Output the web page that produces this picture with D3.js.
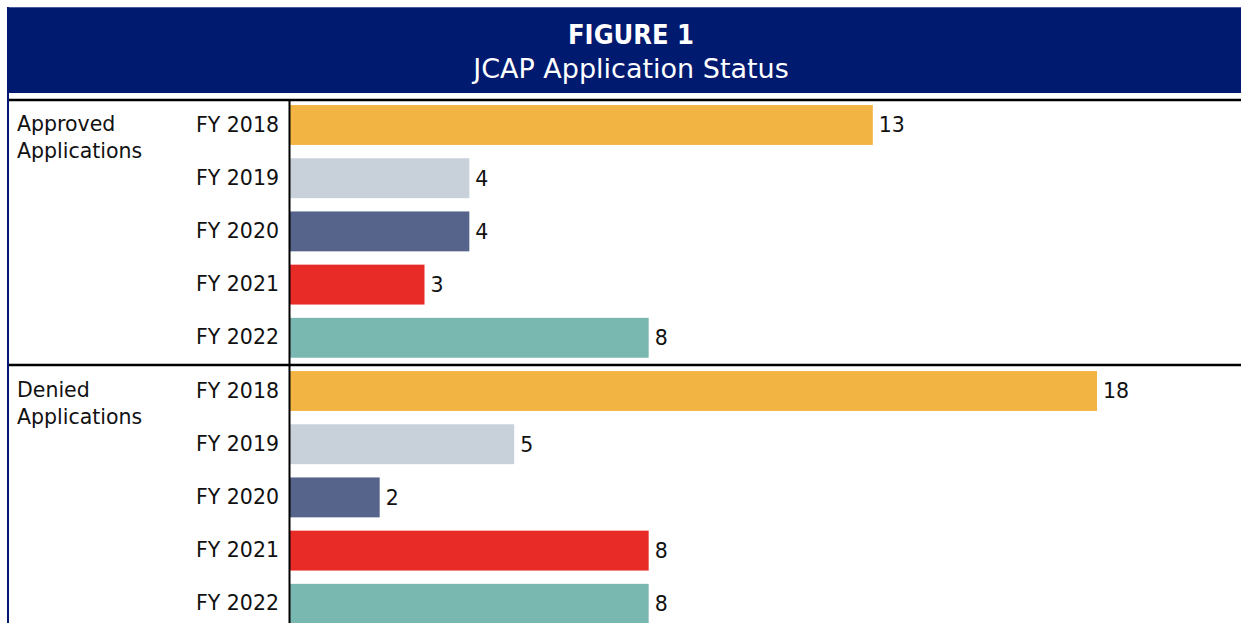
<!DOCTYPE html>
<html>
<head>
<meta charset="utf-8">
<script src="https://cdn.jsdelivr.net/npm/d3@7"></script>
<style>
  html, body { margin: 0; padding: 0; background: #fff; }
  svg { display: block; }
  text { font-family: "DejaVu Sans", sans-serif; }
</style>
</head>
<body>
<svg id="chart" width="1241" height="623"></svg>
<script>
// ---- data ----
const groups = ["Approved Applications", "Denied Applications"];
const years = ["FY 2018", "FY 2019", "FY 2020", "FY 2021", "FY 2022"];
const approved = [13, 4, 4, 3, 8];
const denied = [18, 5, 2, 8, 8];
const yearColors = ["#F2B544", "#C8D1DA", "#56638A", "#E92B28", "#79B7B1"];
const titleLines = ["FIGURE 1", "JCAP Application Status"];

const rows = [];
[approved, denied].forEach((vals, gi) => {
  vals.forEach((v, yi) => rows.push({ key: gi + "-" + yi, group: gi, year: years[yi], yi, value: v }));
});

const svg = d3.select("#chart");
const W = 1241, H = 623;
const FS = 20.5;

// header band
svg.append("rect").attr("x", 8).attr("y", 7).attr("width", W - 8).attr("height", 86)
  .attr("fill", "#001A70");
svg.append("line").attr("x1", 8).attr("x2", W).attr("y1", 7.5).attr("y2", 7.5)
  .attr("stroke", "#4a5a9a").attr("stroke-width", 1);
// left border
svg.append("line").attr("x1", 8).attr("x2", 8).attr("y1", 7).attr("y2", H)
  .attr("stroke", "#001A70").attr("stroke-width", 2);

svg.append("text").attr("x", 631).attr("y", 44).attr("text-anchor", "middle")
  .attr("fill", "#fff").attr("font-weight", "bold").attr("font-size", 27)
  .style("font-family", '"DejaVu Sans Condensed", "DejaVu Sans", sans-serif')
  .text(titleLines[0]);
svg.append("text").attr("x", 631).attr("y", 78).attr("text-anchor", "middle")
  .attr("fill", "#fff").attr("font-size", 27)
  .text(titleLines[1]);

// scales
const y = d3.scaleBand().domain(rows.map(d => d.key)).range([98.4, 630.4])
  .paddingInner(0.25).paddingOuter(0.125);
const x = d3.scaleLinear().domain([0, 18]).range([290, 1097]);

// bars
svg.append("g").selectAll("rect").data(rows).join("rect")
  .attr("x", x(0))
  .attr("y", d => y(d.key))
  .attr("width", d => x(d.value) - x(0))
  .attr("height", y.bandwidth())
  .attr("fill", d => yearColors[d.yi]);

// value labels
svg.append("g").selectAll("text").data(rows).join("text")
  .attr("x", d => x(d.value) + 6)
  .attr("y", d => y(d.key) + y.bandwidth() / 2)
  .attr("dy", "0.36em")
  .attr("font-size", FS).attr("fill", "#111")
  .text(d => d.value);

// category axis (year labels)
const yAxis = d3.axisLeft(y).tickSize(0).tickPadding(11)
  .tickFormat(k => rows.find(r => r.key === k).year);
const ag = svg.append("g").attr("transform", `translate(${x(0)},0)`).call(yAxis);
ag.select(".domain").remove();
ag.selectAll("text").attr("font-size", FS).attr("fill", "#111")
  .attr("font-family", '"DejaVu Sans", sans-serif');

// axis vertical line
svg.append("line").attr("x1", 289.5).attr("x2", 289.5).attr("y1", 100).attr("y2", H)
  .attr("stroke", "#000").attr("stroke-width", 2);

// horizontal rules: top and group separator
const step = y.step();
const top0 = y.range()[0];
[top0 + 1.5, top0 + step * 5 + 0.5].forEach(yy => {
  svg.append("line").attr("x1", 9).attr("x2", W).attr("y1", yy).attr("y2", yy)
    .attr("stroke", "#000").attr("stroke-width", 2.5);
});

// group labels
groups.forEach((g, gi) => {
  const firstKey = gi + "-0";
  const yy = y(firstKey) + y.bandwidth() / 2 - 1;
  const t = svg.append("text").attr("x", 17).attr("y", yy)
    .attr("font-size", FS).attr("fill", "#111");
  g.split(" ").forEach((w, i) => {
    t.append("tspan").attr("x", 17).attr("dy", i === 0 ? "0.36em" : "1.32em").text(w);
  });
});
</script>
</body>
</html>
